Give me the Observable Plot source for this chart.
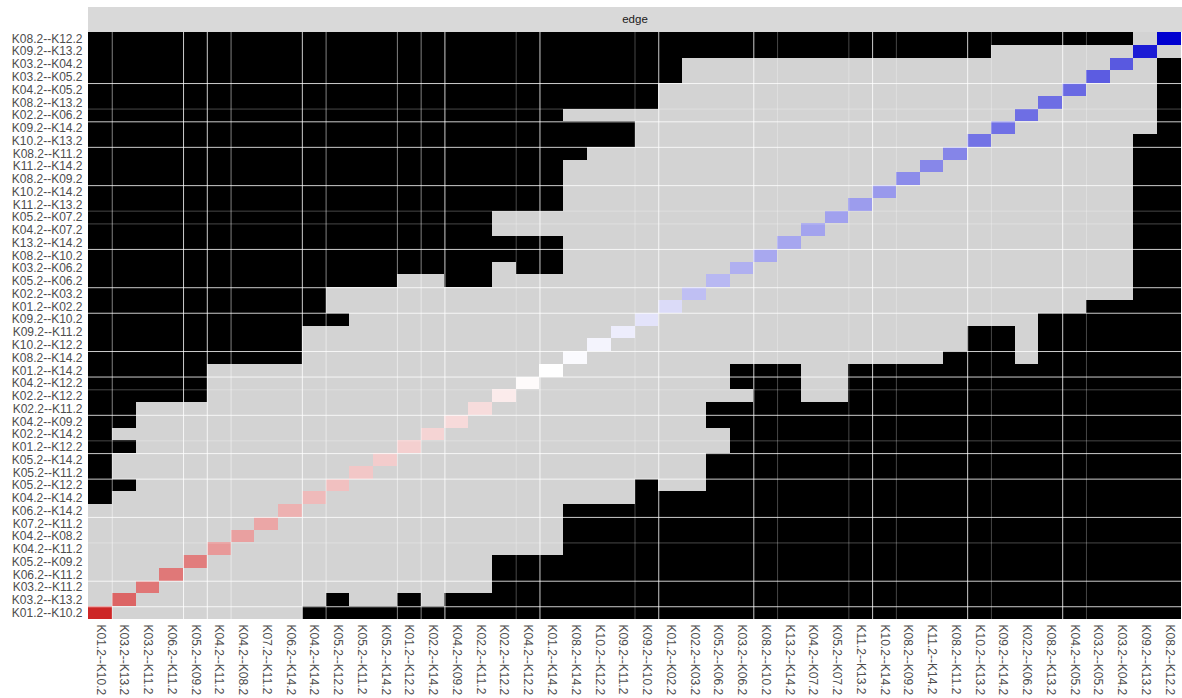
<!DOCTYPE html>
<html>
<head>
<meta charset="utf-8">
<script src="https://cdn.jsdelivr.net/npm/d3@7"></script>
<script src="https://cdn.jsdelivr.net/npm/@observablehq/plot@0.6"></script>
<style>
  html, body { margin: 0; padding: 0; background: #ffffff; }
  body { width: 1182px; font-family: "Liberation Sans", Arial, sans-serif; }
  #strip {
    margin: 7px 0 0 88px; width: 1094px; height: 25px;
    background: #d9d9d9; color: #1a1a1a;
    font-size: 11.5px; line-height: 25px; text-align: center;
  }
  #chart svg { display: block; }
</style>
</head>
<body>
<div id="strip">edge</div>
<div id="chart"></div>
<script>
// Edge categories, left to right along x (the y axis lists them in reverse, top to bottom).
const edges = [
  "K01.2--K10.2", "K03.2--K13.2", "K03.2--K11.2", "K06.2--K11.2", "K05.2--K09.2",
  "K04.2--K11.2", "K04.2--K08.2", "K07.2--K11.2", "K06.2--K14.2", "K04.2--K14.2",
  "K05.2--K12.2", "K05.2--K11.2", "K05.2--K14.2", "K01.2--K12.2", "K02.2--K14.2",
  "K04.2--K09.2", "K02.2--K11.2", "K02.2--K12.2", "K04.2--K12.2", "K01.2--K14.2",
  "K08.2--K14.2", "K10.2--K12.2", "K09.2--K11.2", "K09.2--K10.2", "K01.2--K02.2",
  "K02.2--K03.2", "K05.2--K06.2", "K03.2--K06.2", "K08.2--K10.2", "K13.2--K14.2",
  "K04.2--K07.2", "K05.2--K07.2", "K11.2--K13.2", "K10.2--K14.2", "K08.2--K09.2",
  "K11.2--K14.2", "K08.2--K11.2", "K10.2--K13.2", "K09.2--K14.2", "K02.2--K06.2",
  "K08.2--K13.2", "K04.2--K05.2", "K03.2--K05.2", "K03.2--K04.2", "K09.2--K13.2",
  "K08.2--K12.2"
];

// Value of each edge on the diagonal (same order as edges): negative = red, positive = blue.
const diagValue = [
  -1.00, -0.71, -0.63, -0.62, -0.60, -0.47, -0.44, -0.41, -0.36, -0.32,
  -0.29, -0.26, -0.235, -0.22, -0.20, -0.17, -0.16, -0.09, -0.02, 0.00,
  0.02, 0.045, 0.07, 0.11, 0.14, 0.25, 0.28, 0.31, 0.34, 0.35,
  0.36, 0.37, 0.39, 0.40, 0.45, 0.47, 0.48, 0.55, 0.56, 0.57,
  0.57, 0.59, 0.64, 0.65, 0.89, 1.00
];

// Off-diagonal pairs drawn black: for each row (top to bottom), runs of
// column indices [first, last] into edges. Every other pair is light gray.
const blackRuns = [
  [[0, 43]],
  [[0, 37]],
  [[0, 24], [45, 45]],
  [[0, 24], [45, 45]],
  [[0, 23], [45, 45]],
  [[0, 23], [45, 45]],
  [[0, 19], [45, 45]],
  [[0, 22], [45, 45]],
  [[0, 22], [44, 45]],
  [[0, 20], [44, 45]],
  [[0, 19], [44, 45]],
  [[0, 19], [44, 45]],
  [[0, 19], [44, 45]],
  [[0, 19], [44, 45]],
  [[0, 16], [44, 45]],
  [[0, 16], [44, 45]],
  [[0, 19], [44, 45]],
  [[0, 19], [44, 45]],
  [[0, 16], [18, 19], [44, 45]],
  [[0, 12], [15, 16], [44, 45]],
  [[0, 9], [44, 45]],
  [[0, 9], [42, 45]],
  [[0, 10], [40, 45]],
  [[0, 8], [37, 38], [40, 45]],
  [[0, 8], [37, 38], [40, 45]],
  [[0, 8], [36, 38], [40, 45]],
  [[0, 4], [27, 29], [32, 45]],
  [[0, 4], [27, 29], [32, 45]],
  [[0, 4], [28, 29], [32, 45]],
  [[0, 1], [26, 45]],
  [[0, 1], [26, 45]],
  [[0, 0], [27, 45]],
  [[0, 1], [27, 45]],
  [[0, 0], [26, 45]],
  [[0, 0], [26, 45]],
  [[0, 1], [23, 23], [26, 45]],
  [[0, 0], [23, 45]],
  [[20, 45]],
  [[20, 45]],
  [[20, 45]],
  [[20, 45]],
  [[17, 45]],
  [[17, 45]],
  [[17, 45]],
  [[10, 10], [13, 13], [15, 45]],
  [[9, 45]]
];

// Faint white seams along some tile boundaries (index = first column / row after the seam).
const seamColsStrong = [4, 5, 9, 15, 19, 24, 28, 33, 37, 41];
const seamColsMid = [1, 6, 10, 13, 14];
const seamColsFaint = [18, 23, 29, 32, 34, 38, 42];
const seamRowsStrong = [4, 7, 9, 12, 17, 20, 22, 25, 27, 30, 33, 35, 38, 43, 45];
const seamRowsFaint = [6, 14, 15, 28, 32, 40];

const rowsTopDown = edges.slice().reverse();

const offDiag = [];
rowsTopDown.forEach((r, i) => {
  edges.forEach((c, j) => {
    if (r === c) return;
    const black = blackRuns[i].some(([a, b]) => j >= a && j <= b);
    offDiag.push({row: r, col: c, black});
  });
});
const diagCells = edges.map((e, j) => ({row: e, col: e, value: diagValue[j]}));

const W = 1182, H = 666, ML = 88, MR = 1, MT = 0, MB = 79;
const bw = (W - ML - MR) / edges.length;
const bh = (H - MT - MB) / edges.length;

const seamX = (list, op) => Plot.ruleX(list.map(k => edges[k]), {
  dx: -bw / 2, stroke: "#ffffff", strokeOpacity: op, strokeWidth: 1
});
const seamY = (list, op) => Plot.ruleY(list.map(k => rowsTopDown[k]), {
  dy: -bh / 2, stroke: "#ffffff", strokeOpacity: op, strokeWidth: 1
});

const tile = {x: "col", y: "row", inset: 0, shapeRendering: "crispEdges"};

const chart = Plot.plot({
  width: W, height: H,
  marginTop: MT, marginBottom: MB, marginLeft: ML, marginRight: MR,
  style: {
    fontFamily: "'Liberation Sans', Arial, sans-serif",
    fontSize: "12px", color: "#4d4d4d", background: "#ffffff"
  },
  x: {domain: edges, padding: 0, round: false, tickRotate: 90, tickSize: 0, tickPadding: 5, label: null},
  y: {domain: rowsTopDown, padding: 0, round: false, tickSize: 0, tickPadding: 6, label: null},
  color: {type: "linear", domain: [-1, 0, 1], range: ["#cd2626", "#ffffff", "#0000d0"], interpolate: "rgb"},
  marks: [
    Plot.cell(offDiag.filter(d => !d.black), {...tile, fill: "#d3d3d3"}),
    Plot.cell(offDiag.filter(d => d.black), {...tile, fill: "#000000"}),
    Plot.cell(diagCells, {...tile, fill: "value"}),
    seamX(seamColsStrong, 0.8),
    seamX(seamColsMid, 0.5),
    seamX(seamColsFaint, 0.28),
    seamY(seamRowsStrong, 0.8),
    seamY(seamRowsFaint, 0.28)
  ]
});

document.getElementById("chart").appendChild(chart);
</script>
</body>
</html>
